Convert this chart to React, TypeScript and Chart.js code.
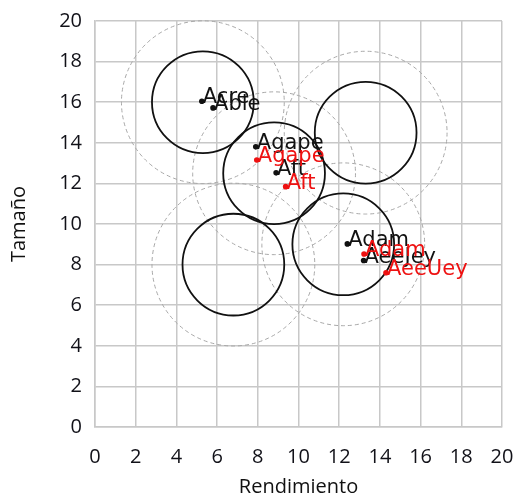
import React, { useEffect, useRef } from "react";
import { Chart, registerables } from "chart.js";

Chart.register(...registerables);

const xTicks = [0, 2, 4, 6, 8, 10, 12, 14, 16, 18, 20];
const yTicks = [0, 2, 4, 6, 8, 10, 12, 14, 16, 18, 20];

const blackLabels = ["Acre", "Able", "Agape", "Aft", "Adam", "AeeJey"];
const blackX = [5.25, 5.8, 7.9, 8.9, 12.4, 13.2];
const blackY = [16.05, 15.72, 13.8, 12.52, 9.02, 8.2];

const redLabels = ["Agape", "Aft", "Adam", "AeeUey"];
const redX = [7.95, 9.37, 13.22, 14.3];
const redY = [13.15, 11.84, 8.52, 7.6];

const circleX = [5.3, 13.3, 8.8, 6.8, 12.2];
const circleY = [16.0, 14.5, 12.5, 8.0, 9.0];
const innerRadius = [2.5, 2.5, 2.5, 2.5, 2.5];
const outerRadius = [4, 4, 4, 4, 4];

const circlesPlugin = {
  id: "circles",
  beforeDatasetsDraw(chart: any) {
    const { ctx, scales } = chart;
    const xs = scales.x;
    const ys = scales.y;
    const toR = (r: number) => xs.getPixelForValue(r) - xs.getPixelForValue(0);
    ctx.save();
    ctx.strokeStyle = "#a8a8a8";
    ctx.lineWidth = 1;
    ctx.setLineDash([4, 3]);
    circleX.forEach((cx, i) => {
      ctx.beginPath();
      ctx.arc(xs.getPixelForValue(cx), ys.getPixelForValue(circleY[i]), toR(outerRadius[i]), 0, Math.PI * 2);
      ctx.stroke();
    });
    ctx.setLineDash([]);
    ctx.strokeStyle = "#111111";
    ctx.lineWidth = 1.8;
    circleX.forEach((cx, i) => {
      ctx.beginPath();
      ctx.arc(xs.getPixelForValue(cx), ys.getPixelForValue(circleY[i]), toR(innerRadius[i]), 0, Math.PI * 2);
      ctx.stroke();
    });
    ctx.restore();
  },
};

const labelsPlugin = {
  id: "pointLabels",
  afterDatasetsDraw(chart: any) {
    const { ctx } = chart;
    ctx.save();
    ctx.font = '21px "DejaVu Sans"';
    ctx.textAlign = "left";
    ctx.textBaseline = "alphabetic";
    chart.data.datasets.forEach((ds: any, di: number) => {
      const meta = chart.getDatasetMeta(di);
      ctx.fillStyle = ds.labelColor;
      meta.data.forEach((pt: any, i: number) => {
        ctx.fillText(ds.pointLabels[i], pt.x + 1, pt.y + 2);
      });
    });
    ctx.restore();
  },
};

const zeroPad = (s: any) => {
  s.paddingTop = 0;
  s.paddingBottom = 0;
  s.paddingLeft = 0;
  s.paddingRight = 0;
};

export default function App() {
  const ref = useRef<HTMLCanvasElement>(null);
  useEffect(() => {
    if (!ref.current) return;
    const tickFont = { family: '"Open Sans"', size: 20 };
    const chart = new Chart(ref.current, {
      type: "scatter",
      data: {
        datasets: [
          {
            label: "black",
            data: blackX.map((x, i) => ({ x, y: blackY[i] })),
            pointRadius: 2.8,
            pointBackgroundColor: "#111111",
            pointBorderWidth: 0,
            pointLabels: blackLabels,
            labelColor: "#111111",
          } as any,
          {
            label: "red",
            data: redX.map((x, i) => ({ x, y: redY[i] })),
            pointRadius: 2.8,
            pointBackgroundColor: "#ee1111",
            pointBorderWidth: 0,
            pointLabels: redLabels,
            labelColor: "#ee1111",
          } as any,
        ],
      },
      options: {
        responsive: false,
        animation: false,
        layout: { padding: { left: 0, top: 21, right: 19, bottom: 0 } },
        plugins: { legend: { display: false }, tooltip: { enabled: false } },
        scales: {
          x: {
            type: "linear",
            min: 0,
            max: 20,
            afterBuildTicks: (s: any) => {
              s.ticks = xTicks.map((v) => ({ value: v }));
            },
            afterFit: (s: any) => {
              s.height = 68;
              zeroPad(s);
            },
            ticks: { font: tickFont, color: "#111118", padding: 18, autoSkip: false, maxRotation: 0 },
            grid: { color: "#c8c8c8", lineWidth: 1.5, drawTicks: false },
            border: { color: "#c8c8c8", width: 1.5 },
            title: {
              display: true,
              text: "Rendimiento",
              font: { family: '"Open Sans"', size: 20, lineHeight: 0.8 },
              color: "#111111",
              padding: 0,
            },
          },
          y: {
            type: "linear",
            min: 0,
            max: 20,
            afterBuildTicks: (s: any) => {
              s.ticks = yTicks.map((v) => ({ value: v }));
            },
            afterFit: (s: any) => {
              s.width = 95;
              zeroPad(s);
            },
            ticks: { font: tickFont, color: "#111118", padding: 13, autoSkip: false },
            grid: { color: "#c8c8c8", lineWidth: 1.5, drawTicks: false },
            border: { color: "#c8c8c8", width: 1.5 },
            title: {
              display: true,
              text: "Tamaño",
              font: { family: '"Open Sans"', size: 20, lineHeight: 1.2 },
              color: "#111111",
              padding: { top: 7, bottom: 0 },
            },
          },
        },
      },
      plugins: [circlesPlugin, labelsPlugin],
    });
    return () => chart.destroy();
  }, []);
  return (
    <div style={{ position: "absolute", left: 0, top: 0, width: 521, height: 495, background: "#fff" }}>
      <canvas ref={ref} width={521} height={495} style={{ display: "block" }} />
    </div>
  );
}
